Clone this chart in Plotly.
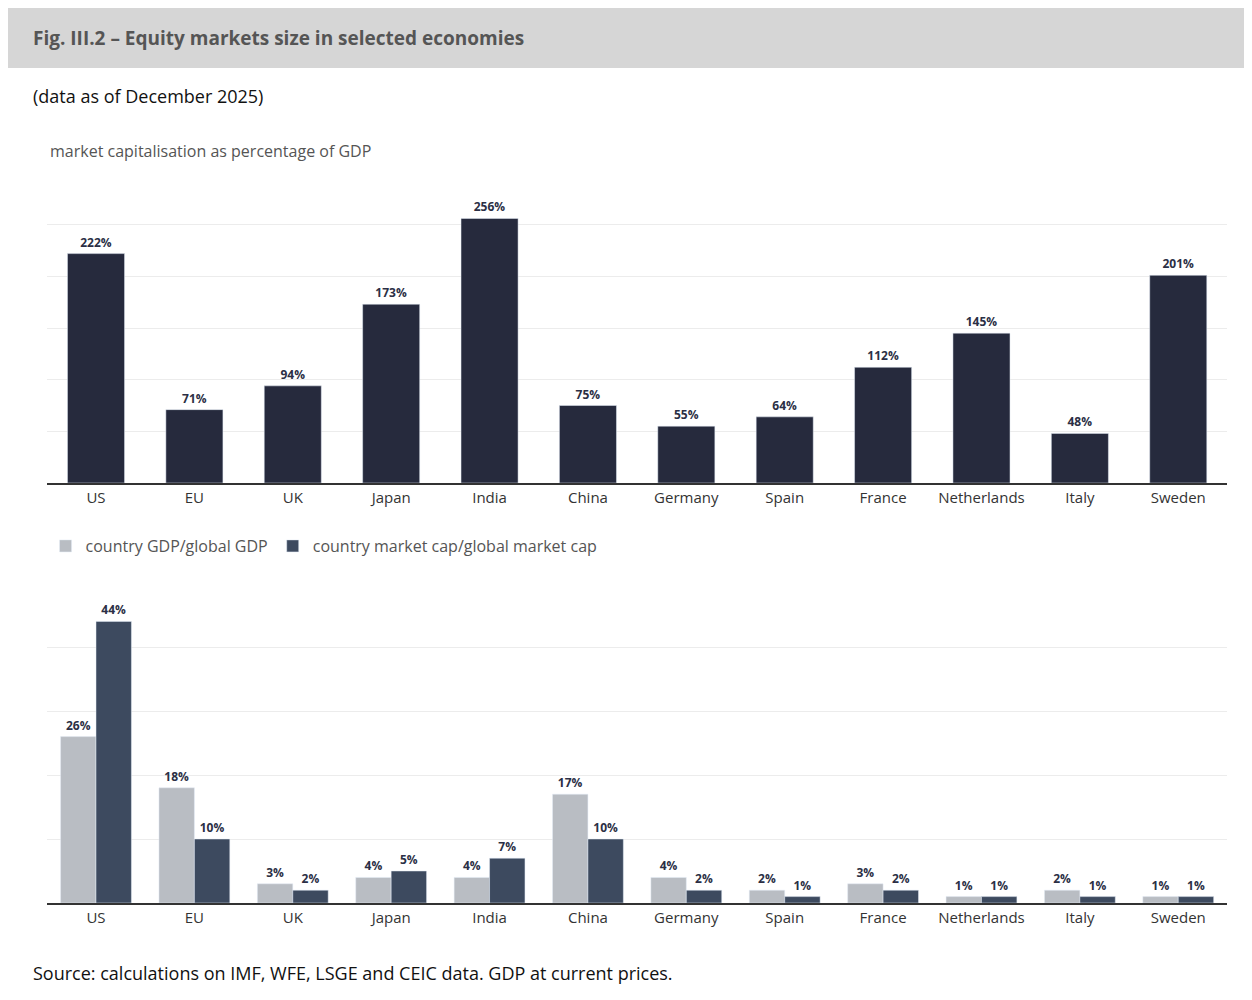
import plotly.graph_objects as go

countries = ["US", "EU", "UK", "Japan", "India", "China", "Germany", "Spain",
             "France", "Netherlands", "Italy", "Sweden"]
mcap_gdp = [222, 71, 94, 173, 256, 75, 55, 64, 112, 145, 48, 201]
gdp_share = [26, 18, 3, 4, 4, 17, 4, 2, 3, 1, 2, 1]
mcap_share = [44, 10, 2, 5, 7, 10, 2, 1, 2, 1, 1, 1]

FONT = "Open Sans"
lab_font = dict(family=FONT, size=12, color="#2b2f45")

fig = go.Figure()

fig.add_trace(go.Bar(
    x=countries, y=mcap_gdp, marker_color="#262a3d", showlegend=False,
    text=[f"<b>{v}%</b>" for v in mcap_gdp], textposition="outside",
    textfont=lab_font, cliponaxis=False, xaxis="x", yaxis="y"))

fig.add_trace(go.Bar(
    x=countries, y=gdp_share, marker_color="#b9bdc3", name="country GDP/global GDP",
    text=[f"<b>{v}%</b>" for v in gdp_share], textposition="outside",
    textfont=lab_font, cliponaxis=False, xaxis="x2", yaxis="y2"))
fig.add_trace(go.Bar(
    x=countries, y=mcap_share, marker_color="#3d4a5f",
    name="country market cap/global market cap",
    text=[f"<b>{v}%</b>" for v in mcap_share], textposition="outside",
    textfont=lab_font, cliponaxis=False, xaxis="x2", yaxis="y2"))

xdom = [0.031, 0.974]
axis_x = dict(domain=xdom, showline=True, linecolor="#333", linewidth=1.5,
              ticks="", tickfont=dict(family=FONT, size=15, color="#333"),
              showgrid=False)
axis_y = dict(showticklabels=False, showgrid=True, gridcolor="#ececec",
              zeroline=False, showline=False, ticks="")

fig.update_layout(
    width=1252, height=1000, margin=dict(l=0, r=0, t=0, b=0),
    paper_bgcolor="white", plot_bgcolor="white",
    font=dict(family=FONT, color="#222"),
    barmode="group",
    xaxis=dict(axis_x, anchor="y"),
    yaxis=dict(axis_y, domain=[0.525, 0.835], range=[0, 300], dtick=50),
    xaxis2=dict(axis_x, anchor="y2"),
    yaxis2=dict(axis_y, domain=[0.105, 0.425], range=[0, 50], dtick=10),
    bargap=0.28, bargroupgap=0.0,
    legend=dict(orientation="h", x=0.03, y=0.462, xanchor="left", yanchor="middle",
                font=dict(family=FONT, size=16, color="#555"), itemwidth=30,
                traceorder="normal"),
    shapes=[dict(type="rect", xref="paper", yref="paper", x0=0, x1=1, y0=0.94, y1=1,
                 fillcolor="#d6d6d6", line_width=0, layer="below")],
    annotations=[
        dict(text="<b>Fig. III.2 – Equity markets size in selected economies</b>",
             x=0.018, y=0.97, xref="paper", yref="paper", xanchor="left",
             yanchor="middle", showarrow=False,
             font=dict(family=FONT, size=19, color="#555")),
        dict(text="(data as of December 2025)", x=0.018, y=0.912, xref="paper",
             yref="paper", xanchor="left", yanchor="middle", showarrow=False,
             font=dict(family=FONT, size=18, color="#111")),
        dict(text="market capitalisation as percentage of GDP", x=0.032, y=0.857,
             xref="paper", yref="paper", xanchor="left", yanchor="middle",
             showarrow=False, font=dict(family=FONT, size=16, color="#555")),
        dict(text="Source: calculations on IMF, WFE, LSGE and CEIC data. GDP at current prices.",
             x=0.018, y=0.035, xref="paper", yref="paper", xanchor="left",
             yanchor="middle", showarrow=False,
             font=dict(family=FONT, size=18, color="#111")),
    ],
)
# narrower bars in the top panel
fig.data[0].width = 0.58

fig.write_html("out.html")
